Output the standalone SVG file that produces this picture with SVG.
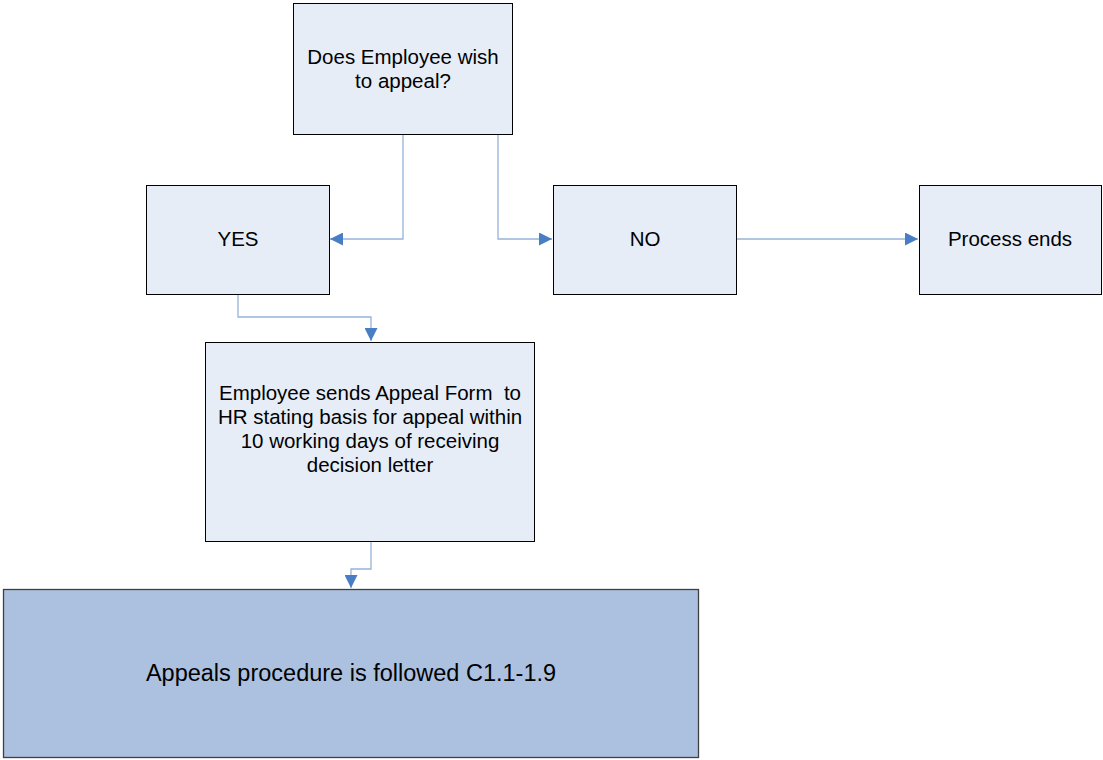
<svg xmlns="http://www.w3.org/2000/svg" width="1103" height="760" viewBox="0 0 1103 760">
<style>
.box{fill:#E6EDF7;stroke:#000;stroke-width:1}
.dark{fill:#ACC0E0;stroke:#404040;stroke-width:1.3}
.t{font-family:"Liberation Sans",Arial,sans-serif;font-size:20.5px;fill:#000;text-anchor:middle;white-space:pre}
.big{font-size:23.5px}
.c{fill:none;stroke:#95B3D7;stroke-width:1.3}
</style>
<defs>
<marker id="ah" viewBox="0 0 10 10" refX="10" refY="5" markerWidth="14" markerHeight="13" markerUnits="userSpaceOnUse" orient="auto">
<path d="M0,0 L10,5 L0,10 z" fill="#4A7EC4"/>
</marker>
</defs>
<rect width="1103" height="760" fill="#fff"/>
<g id="connectors">
<path class="c" d="M403,135 V239 H330" marker-end="url(#ah)"/>
<path class="c" d="M498,135 V239 H552" marker-end="url(#ah)"/>
<path class="c" d="M736,239 H918" marker-end="url(#ah)"/>
<path class="c" d="M238,294 V317 H371 V341" marker-end="url(#ah)"/>
<path class="c" d="M371,541 V569 H351 V588" marker-end="url(#ah)"/>
</g>
<g id="n-question">
<rect class="box" x="293.5" y="3.5" width="219" height="131"/>
<text class="t" x="403" y="64">Does Employee wish</text>
<text class="t" x="403" y="88">to appeal?</text>
</g>
<g id="n-yes">
<rect class="box" x="146.5" y="185.5" width="183" height="109"/>
<text class="t" x="238" y="246">YES</text>
</g>
<g id="n-no">
<rect class="box" x="553.5" y="185.5" width="183" height="109"/>
<text class="t" x="645" y="246">NO</text>
</g>
<g id="n-end">
<rect class="box" x="919.5" y="185.5" width="182" height="109"/>
<text class="t" x="1010" y="246">Process ends</text>
</g>
<g id="n-send">
<rect class="box" x="205.5" y="342.5" width="329" height="199"/>
<text class="t" x="370" y="400" xml:space="preserve">Employee sends Appeal Form  to</text>
<text class="t" x="370" y="424">HR stating basis for appeal within</text>
<text class="t" x="370" y="448">10 working days of receiving</text>
<text class="t" x="370" y="472">decision letter</text>
</g>
<g id="n-appeals">
<rect class="dark" x="3.5" y="589.5" width="695" height="168"/>
<text class="t big" x="351" y="681">Appeals procedure is followed C1.1-1.9</text>
</g>
</svg>
